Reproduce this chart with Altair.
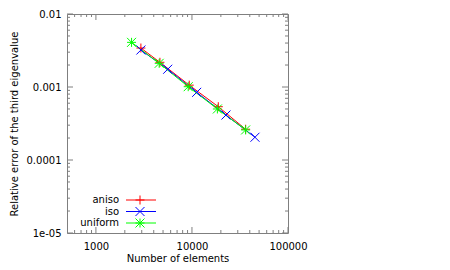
import altair as alt
import pandas as pd

# ---- data ----
series = ["aniso", "iso", "uniform"]
colors = ["#ff0000", "#0000ff", "#00ff00"]

aniso_n = [2940, 4640, 9370, 18800, 36200]
aniso_err = [0.00342, 0.00218, 0.00106, 0.000537, 0.000264]
iso_n = [2940, 5590, 11200, 22600, 45300]
iso_err = [0.00321, 0.00175, 0.000845, 0.000413, 0.000205]
uniform_n = [2350, 4560, 9140, 18400, 36200]
uniform_err = [0.00409, 0.00211, 0.00101, 0.000500, 0.000258]

x_major = [1000, 10000, 100000]
x_labels = ["1000", "10000", "100000"]
y_major = [1e-5, 1e-4, 1e-3, 1e-2]
y_labels = ["1e-05", "0.0001", "0.001", "0.01"]
x_minor = [600, 700, 800, 900] + [k * 1000 for k in range(2, 10)] + [k * 10000 for k in range(2, 10)]
y_minor = [k * 10.0 ** e for e in (-5, -4, -3) for k in range(2, 10)]

# ---- style ----
W, H = 221, 219
FONT = "DejaVu Sans"
BORDER = "#7f7f7f"
MAJOR_LEN, MINOR_LEN = 6, 3
PLUS = "M-1,0L1,0M0,-1L0,1"
CROSS = "M-1,-1L1,1M-1,1L1,-1"
STAR = PLUS + CROSS
shapes = [PLUS, CROSS, STAR]
MSIZE = 81

rows = []
for name, ns, es in [("aniso", aniso_n, aniso_err), ("iso", iso_n, iso_err), ("uniform", uniform_n, uniform_err)]:
    for n, e in zip(ns, es):
        rows.append({"series": name, "n": n, "err": e})
df = pd.DataFrame(rows)

xscale = alt.Scale(type="log", domain=[500, 100000], nice=False)
yscale = alt.Scale(type="log", domain=[1e-5, 0.01], nice=False)


def ternary(vals, labels):
    parts = [f"abs(datum.value - {v}) < {v * 0.01} ? '{l}'" for v, l in zip(vals, labels)]
    return " : ".join(parts) + " : ''"


xaxis = alt.Axis(values=x_major, labelExpr=ternary(x_major, x_labels), title="Number of elements",
                 titleX=W / 2, titleY=28, titleBaseline="alphabetic", titleAlign="center",
                 labelPadding=8, labelFlush=False, labelOverlap=False)
yaxis = alt.Axis(values=y_major, labelExpr=ternary(y_major, y_labels),
                 title="Relative error of the third eigenvalue",
                 titleX=-50, titleY=H / 2, titleAngle=270, titleBaseline="alphabetic",
                 titleAlign="center", labelPadding=6, labelFlush=False, labelOverlap=False)

X = lambda f: alt.X(f"{f}:Q", scale=xscale, axis=xaxis)
Y = lambda f: alt.Y(f"{f}:Q", scale=yscale, axis=yaxis)

layers = []
# tick marks (inside, mirrored)
for vals, L in [(x_major, MAJOR_LEN), (x_minor, MINOR_LEN)]:
    d = pd.DataFrame({"v": vals})
    base = alt.Chart(d).mark_rule(color=BORDER, strokeWidth=1)
    layers.append(base.encode(x=X("v"), y=alt.value(H), y2=alt.value(H - L)))
    layers.append(base.encode(x=X("v"), y=alt.value(0), y2=alt.value(L)))
for vals, L in [(y_major, MAJOR_LEN), (y_minor, MINOR_LEN)]:
    d = pd.DataFrame({"v": vals})
    base = alt.Chart(d).mark_rule(color=BORDER, strokeWidth=1)
    layers.append(base.encode(y=Y("v"), x=alt.value(0), x2=alt.value(L)))
    layers.append(base.encode(y=Y("v"), x=alt.value(W), x2=alt.value(W - L)))

color = alt.Color("series:N", scale=alt.Scale(domain=series, range=colors), legend=None)
shape = alt.Shape("series:N", scale=alt.Scale(domain=series, range=shapes), legend=None)

lines = alt.Chart(df).mark_line(strokeWidth=1).encode(x=X("n"), y=Y("err"), color=color, detail="series:N")
points = alt.Chart(df).mark_point(filled=False, size=MSIZE, strokeWidth=1, opacity=1).encode(
    x=X("n"), y=Y("err"), color=color, shape=shape)
layers += [lines, points]

# key (gnuplot style: text then sample)
for i, (name, c, sh) in enumerate(zip(series, colors, shapes)):
    yy = 186 + 11.5 * i
    d = pd.DataFrame({"series": [name]})
    base = alt.Chart(d)
    layers.append(base.mark_text(align="right", baseline="middle", font=FONT, fontSize=10, color="black").encode(
        text="series:N", x=alt.value(52), y=alt.value(yy)))
    layers.append(base.mark_rule(color=c, strokeWidth=1).encode(x=alt.value(59), x2=alt.value(89), y=alt.value(yy)))
    layers.append(base.mark_point(shape=sh, color=c, filled=False, size=MSIZE, strokeWidth=1, opacity=1).encode(
        x=alt.value(73), y=alt.value(yy)))

chart = alt.layer(*layers).properties(
    width=W, height=H,
    autosize=alt.AutoSizeParams(type="none"),
    padding={"left": 59, "top": 6, "right": 20, "bottom": 40},
).configure_view(stroke=BORDER, strokeWidth=1).configure_axis(
    grid=False, domain=False, ticks=False, tickSize=0,
    labelFont=FONT, labelFontSize=10, labelColor="black",
    titleFont=FONT, titleFontSize=10, titleColor="black", titleFontWeight="normal",
)

chart.save("out.html", embed_options={"renderer": "svg", "actions": False})
